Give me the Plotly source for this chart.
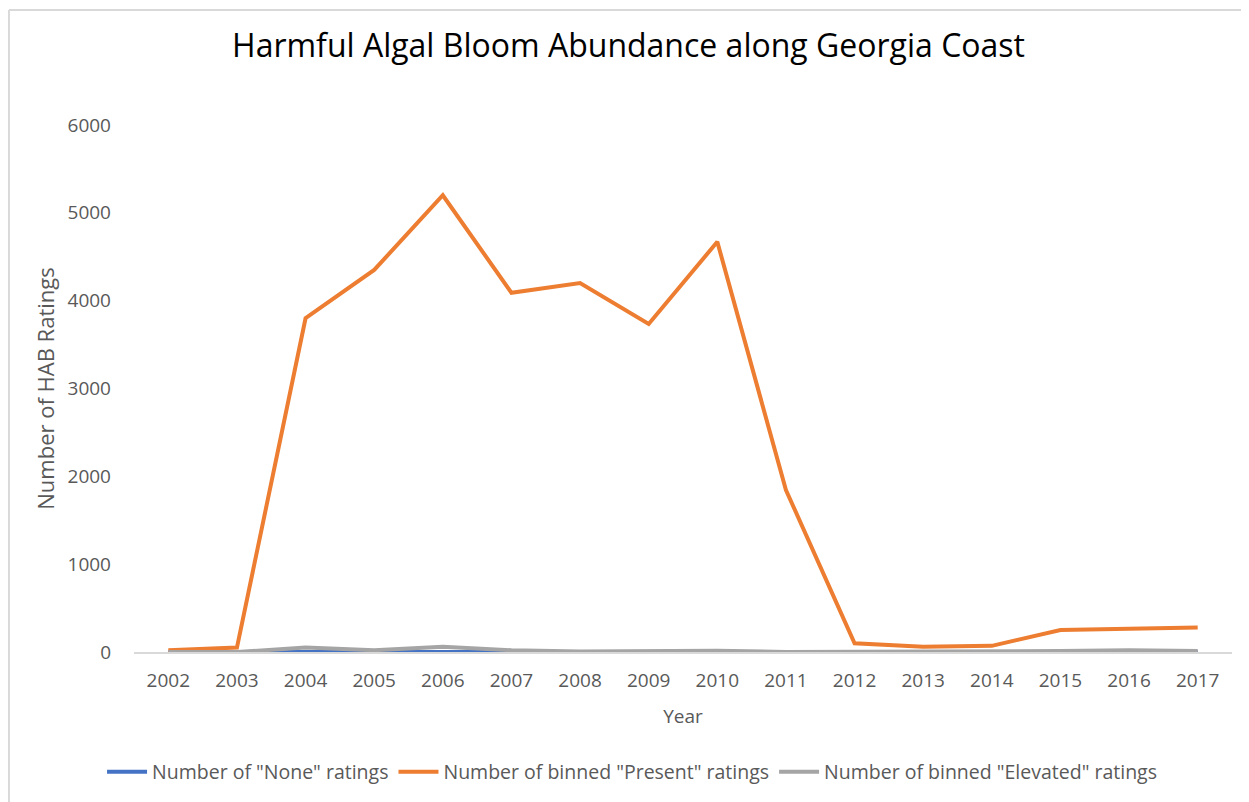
import plotly.graph_objects as go

years = [str(y) for y in range(2002, 2018)]
none_ratings = [0, 0, 5, 5, 10, 5, 0, 0, 0, 0, 0, 0, 0, 0, 0, 0]
present_ratings = [20, 50, 3800, 4350, 5200, 4090, 4200, 3735, 4670, 1845, 100, 60, 70, 250, 265, 280]
elevated_ratings = [0, 0, 50, 20, 60, 20, 5, 5, 15, 0, 0, 10, 0, 10, 20, 10]

font_family = "Open Sans"
grey_text = '#595959'

fig = go.Figure()
fig.add_trace(go.Scatter(x=years, y=none_ratings, mode='lines', name='Number of "None" ratings',
                         line=dict(color='#4472C4', width=4)))
fig.add_trace(go.Scatter(x=years, y=present_ratings, mode='lines', name='Number of binned "Present" ratings',
                         line=dict(color='#ED7D31', width=4)))
fig.add_trace(go.Scatter(x=years, y=elevated_ratings, mode='lines', name='Number of binned "Elevated" ratings',
                         line=dict(color='#A5A5A5', width=4)))

# light frame on the top and left edges (cropped chart-area border)
fig.add_shape(type='line', xref='paper', yref='paper', x0=-0.1139, x1=1.02, y0=1.2182, y1=1.2182,
              line=dict(color='#D9D9D9', width=2))
fig.add_shape(type='line', xref='paper', yref='paper', x0=-0.1139, x1=-0.1139, y0=-0.3, y1=1.2182,
              line=dict(color='#D9D9D9', width=2))

# page body has an 8px margin, so the figure is a bit smaller than the window
fig.update_layout(
    width=1241, height=794,
    margin=dict(l=126, r=17, t=117, b=150, autoexpand=False),
    paper_bgcolor='white', plot_bgcolor='white',
    font=dict(family=font_family, color=grey_text),
    title=dict(text='Harmful Algal Bloom Abundance along Georgia Coast', x=0.5, xref='container',
               xanchor='center', y=0.953, yref='container', yanchor='middle',
               font=dict(size=32, color='black', family=font_family)),
    xaxis=dict(type='category', range=[-0.5, 15.5], showgrid=False, showline=True, linecolor='#D9D9D9',
               linewidth=1.5, ticks='', ticklabelstandoff=10, tickangle=0,
               tickfont=dict(size=19, color=grey_text),
               title=dict(text='Year', font=dict(size=19, color=grey_text), standoff=18)),
    yaxis=dict(range=[0, 6000], tickvals=[0, 1000, 2000, 3000, 4000, 5000, 6000], showgrid=False,
               zeroline=False, showline=False, ticks='', ticklabelstandoff=22,
               tickfont=dict(size=19, color=grey_text),
               title=dict(text='Number of HAB Ratings', font=dict(size=22, color=grey_text), standoff=6)),
    legend=dict(orientation='h', x=0.4536, xanchor='center', y=-0.228, yanchor='middle',
                font=dict(size=19.5, color=grey_text), itemwidth=40, tracegroupgap=0),
    showlegend=True,
)

fig.write_html("out.html")
